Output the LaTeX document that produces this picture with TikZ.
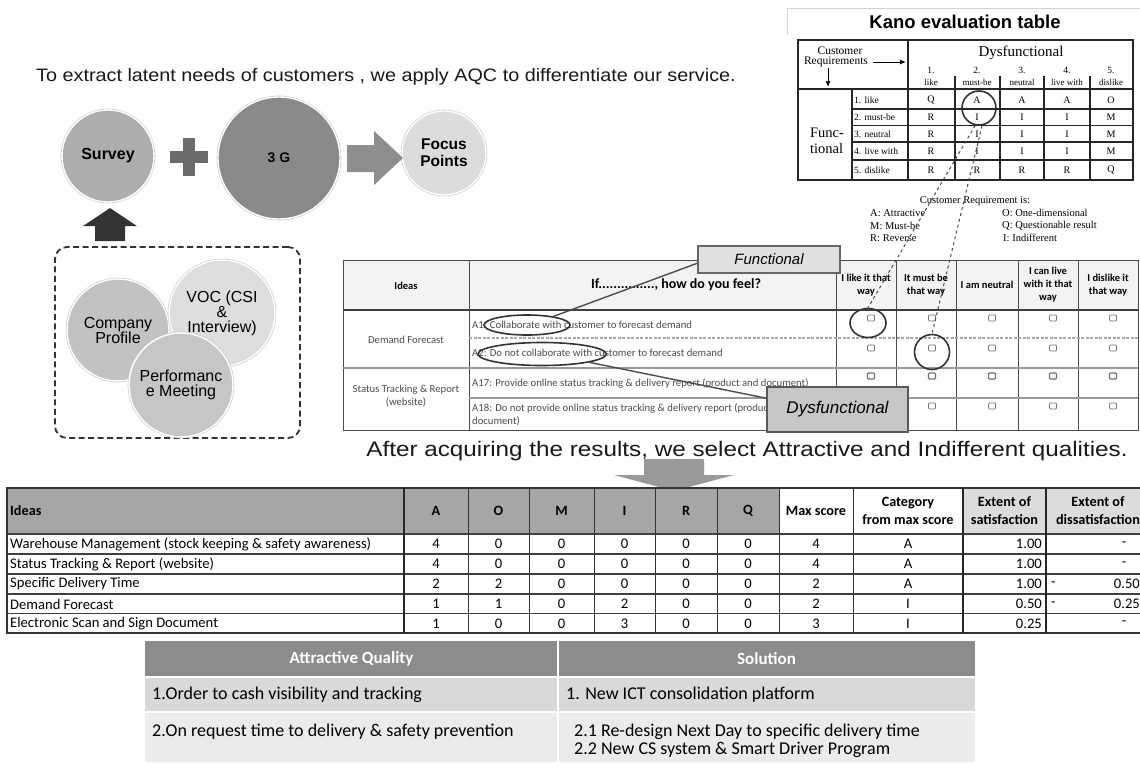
\documentclass[tikz,border=0pt]{standalone}
\usepackage{fontspec}
\setmainfont{Liberation Sans}
\newfontfamily\kserif{Liberation Serif}
\newfontfamily\calib{Carlito}
\usetikzlibrary{shapes.geometric,calc,arrows.meta}
\newcommand{\fsz}[2]{\fontsize{#1}{#2}\selectfont}

\definecolor{surveyc}{HTML}{ADADAD}
\definecolor{gthree}{HTML}{8A8A8A}
\definecolor{focusc}{HTML}{DCDCDC}
\definecolor{compc}{HTML}{C2C2C2}
\definecolor{vocc}{HTML}{DDDDDD}
\definecolor{perfc}{HTML}{C6C6C6}
\definecolor{plusc}{HTML}{6B6B6B}
\definecolor{arrowc}{HTML}{8E8E8E}
\definecolor{hdrgray}{HTML}{A6A6A6}
\definecolor{hdrlight}{HTML}{DCDCDC}
\definecolor{qheadfill}{HTML}{F3F3F3}
\definecolor{aqhead}{HTML}{8C8C8C}
\definecolor{aqrowa}{HTML}{D9D9D9}
\definecolor{aqrowb}{HTML}{EBEBEB}

\begin{document}
\begin{tikzpicture}[x=1pt,y=-1pt,
  bubble/.style={circle, inner sep=0pt, minimum size=#1, draw=white, line width=1.4pt,
    preaction={draw=black!22, line width=2.6pt}, align=center},
  ktxt/.style={font=\kserif\fsz{9.5}{10.5}, inner sep=0pt},
  kval/.style={font=\kserif\fsz{10}{11}, inner sep=0pt},
  klegend/.style={font=\kserif\fsz{10.5}{11.5}, inner sep=0pt},
  kline/.style={line width=1.1pt, draw=black!85},
  qtxt/.style={font=\calib\fsz{10.7}{12.5}, text=black!70, inner sep=0pt, anchor=west, align=left},
  qcol/.style={font=\calib\bfseries\fsz{10.5}{13}, align=center, inner sep=0pt},
  tickbox/.style={draw=black!55, line width=0.7pt, rounded corners=1pt, minimum width=7pt, minimum height=6pt, inner sep=0pt},
  ring/.style={draw=black!80, line width=1.6pt, inner sep=0pt},
  callout/.style={line width=1.4pt, draw=black!70},
  btxt/.style={font=\calib\fsz{14.6}{16}, inner sep=0pt},
  bhead/.style={font=\calib\bfseries\fsz{14.2}{18}, inner sep=0pt, align=center},
  aqtxt/.style={font=\calib\fsz{18}{18}, inner sep=0pt, anchor=west, align=left},
]
\useasboundingbox (0,0) rectangle (1140,766);
\clip (0,0) rectangle (1140,766);
\fill[white] (0,0) rectangle (1140,766);

% ---------- opening sentence ----------
\node[font=\fsz{18}{20}, text=black!90, inner sep=0pt] (intro) at (386,77)
  {\scalebox{1.1}[1]{To extract latent needs of customers , we apply AQC to differentiate our service.}};

% ---------- Survey + 3G -> Focus Points ----------
\node[bubble=92, fill=surveyc, font=\bfseries\fsz{16}{18}] (survey) at (108,156) {Survey};
\node[fill=plusc, minimum width=38pt, minimum height=12pt, inner sep=0pt] (plush) at (189,157) {};
\node[fill=plusc, minimum width=12pt, minimum height=38pt, inner sep=0pt] (plusv) at (189,157) {};
\node[bubble=122, fill=gthree, font=\bfseries\fsz{14}{16}] (g3) at (279,158) {3 G};
\node[bubble=84, fill=focusc, font=\bfseries\fsz{15.5}{17}] (focus) at (444,153) {Focus\\Points};
\fill[arrowc] (347,145) -- (374,145) -- (374,131) -- (403,158) -- (374,185) -- (374,172) -- (347,172) -- cycle;

% block arrow feeding the survey
\fill[black!80] (110,208) -- (137,226) -- (125,226) -- (125,241) -- (95,241) -- (95,226) -- (83,226) -- cycle;

% ---------- survey sources ----------
\node[draw=black!80, line width=1.8pt, dash pattern=on 6pt off 3.5pt, rounded corners=12pt,
  minimum width=245pt, minimum height=191pt, inner sep=0pt] (srcbox) at (177.5,342.5) {};
\node[bubble=102, fill=compc, font=\fsz{16}{15}] (comp) at (118,330) {Company\\Profile};
\node[bubble=106, fill=vocc, font=\fsz{16}{15}] (voc) at (222,313) {VOC (CSI\\\&\\Interview)};
\node[bubble=104, fill=perfc, font=\fsz{16}{15}] (perf) at (181,385) {Performanc\\e Meeting};

% ---------- Kano evaluation table ----------
\draw[black!18, line width=0.8pt] (787,35) -- (787,8) -- (1140,8);
\node[font=\bfseries\fsz{18.5}{20}, inner sep=0pt] (kanotitle) at (965,22) {Kano evaluation table};
\draw[kline, line width=1.5pt] (798,40) rectangle (1133,180);
\draw[kline, line width=1.5pt] (908,40) -- (908,180);
\draw[kline, line width=1.5pt] (798,89) -- (1133,89);
\draw[kline] (852,89) -- (852,180);
\draw[kline, line width=1.5pt] (955,76) -- (955,180);
\foreach \xx in {1000,1044,1090} \draw[kline] (\xx,76) -- (\xx,180);
\foreach \yy in {109,125.5,142,160} \draw[kline] (852,\yy) -- (1133,\yy);

\node[font=\kserif\fsz{11.5}{12}, inner sep=0pt] (kcust) at (840,51) {Customer};
\node[font=\kserif\fsz{11.5}{12}, inner sep=0pt] (kreq) at (836,62) {Requirements};
\coordinate (kright) at (906,62);
\coordinate (kdown) at (828,87);
\draw[-{Latex[length=6pt,width=5pt]}, line width=1pt] ([xshift=5pt]kreq.east) -- (kright);
\draw[-{Latex[length=6pt,width=5pt]}, line width=1pt] ([yshift=-1pt]kreq.south -| kdown) -- (kdown);
\node[font=\kserif\fsz{15}{16}, inner sep=0pt] (kdys) at (1021,53) {Dysfunctional};
\foreach \cx/\num/\word [count=\k] in {931/1./like, 977/2./must-be, 1022/3./neutral, 1067/4./live with, 1111/5./dislike}{
  \node[ktxt, font=\kserif\fsz{9.5}{10}] (kcn\k) at (\cx,70) {\num};
  \node[ktxt, font=\kserif\fsz{9}{10}] (kcw\k) at (\cx,82) {\word};
}
\node[font=\kserif\fsz{14.5}{16.5}, inner sep=0pt, align=left] (kfun) at (827,141) {Func-\\tional};
\foreach \ry/\lab/\va/\vb/\vc/\vd/\ve [count=\k] in
  {100/1. like/Q/A/A/A/O, 117.5/2. must-be/R/I/I/I/M, 134/3. neutral/R/I/I/I/M,
   151/4. live with/R/I/I/I/M, 170/5. dislike/R/R/R/R/Q}{
  \node[ktxt, anchor=west] (kr\k) at (854,\ry) {\lab};
  \node[kval] (kv\k-1) at (931,\ry) {\va};
  \node[kval] (kv\k-2) at (977,\ry) {\vb};
  \node[kval] (kv\k-3) at (1022,\ry) {\vc};
  \node[kval] (kv\k-4) at (1067,\ry) {\vd};
  \node[kval] (kv\k-5) at (1111,\ry) {\ve};
}
\node[ring, circle, minimum size=34pt] (ka) at (979,108) {};

\node[klegend] (klegendhead) at (975,201) {Customer Requirement is:};
\node[klegend, anchor=west] (kla) at (870,213) {A: Attractive};
\node[klegend, anchor=west] (klm) at (870,226) {M: Must-be};
\node[klegend, anchor=west] (klr) at (870,238) {R: Reverse};
\node[klegend, anchor=west] (klo) at (1002,213) {O: One-dimensional};
\node[klegend, anchor=west] (klq) at (1002,226) {Q: Questionable result};
\node[klegend, anchor=west] (kli) at (1003,238) {I: Indifferent};

% ---------- questionnaire ----------
\fill[qheadfill] (343,260) rectangle (1138,310);
\draw[black!70, line width=1pt] (343,260) rectangle (1138,430);
\foreach \xx in {469,836,896,956,1018,1078} \draw[black!70, line width=1pt] (\xx,260) -- (\xx,430);
\draw[black!75, line width=1.3pt] (343,310) -- (1138,310);
\draw[black!35, line width=1.2pt, dash pattern=on 3pt off 1.5pt] (469,338) -- (1138,338);
\draw[black!40, line width=1.6pt] (343,368) -- (1138,368);
\draw[black!40, line width=1.2pt] (469,398) -- (1138,398);

\node[qcol] (qideas) at (406,286) {Ideas};
\node[font=\calib\bfseries\fsz{14}{16}, inner sep=0pt] (qif) at (676,285) {If..............., how do you feel?};
\node[qcol] (qc1) at (866,285) {I like it that\\way};
\node[qcol] (qc2) at (926,285) {It must be\\that way};
\node[qcol] (qc3) at (987,285) {I am neutral};
\node[qcol] (qc4) at (1048,285) {I can live\\with it that\\way};
\node[qcol] (qc5) at (1108,285) {I dislike it\\that way};

\node[qtxt, anchor=center, align=center] (qdf) at (406,340) {Demand Forecast};
\node[qtxt, anchor=center, align=center] (qst) at (406,396) {Status Tracking \& Report\\(website)};
\node[qtxt] (qa1) at (472,325) {A1: Collaborate with customer to forecast demand};
\node[qtxt] (qa2) at (472,353) {A2: Do not collaborate with customer to forecast demand};
\node[qtxt] (qa17) at (472,383) {A17: Provide online status tracking \& delivery report (product and document)};
\node[qtxt] (qa18) at (472,415) {A18: Do not provide online status tracking \& delivery report (product and\\document)};

\foreach \ry/\bw [count=\r] in {318/0.7, 348/0.7, 376/1.2, 406/0.7}{
  \foreach \cx [count=\c] in {871,932,992,1053,1113}{
    \node[tickbox, line width=\bw pt] (cb\r-\c) at (\cx,\ry) {};
  }
}

% highlight rings and callouts
\node[ring, ellipse, minimum width=86pt, minimum height=20pt] (e1) at (527,325) {};
\node[ring, ellipse, minimum width=128pt, minimum height=23pt] (e2) at (542,354) {};
\node[ring, ellipse, minimum width=36pt, minimum height=29pt] (m1) at (868,323) {};
\node[ring, circle, minimum size=35pt] (m2) at (932,352) {};
\draw[dashed, black!70, line width=1pt] (ka.258) -- (m1.north);
\draw[dashed, black!70, line width=1pt] (ka.280) -- (m2.north);

\node[draw=black!60, fill=black!12, line width=1.5pt, minimum width=142pt, minimum height=27pt,
  inner sep=0pt, font=\itshape\fsz{15}{17}] (fb) at (769,259.5) {Functional};
\node[draw=black!65, fill=black!22, line width=2pt, minimum width=141pt, minimum height=45pt,
  inner sep=0pt, font=\itshape\fsz{17}{19}] (db) at (837.5,409.5) {Dysfunctional};
\draw[callout] (fb.183) -- (e1.18);
\draw[callout] (e2.-10) -- (db.171);

% ---------- selection sentence and arrow ----------
\node[font=\fsz{21}{23}, text=black!90, inner sep=0pt] (select) at (747,451)
  {\scalebox{1.155}[1]{After acquiring the results, we select Attractive and Indifferent qualities.}};
\fill[black!40] (644,459) -- (704,459) -- (704,475) -- (734,475) -- (674,491) -- (614,475) -- (644,475) -- cycle;

% ---------- score table ----------
\fill[hdrgray] (7,488) rectangle (779,534);
\fill[white] (779,488) rectangle (963,534);
\fill[hdrlight] (963,488) rectangle (1150,534);
\foreach \yy in {534,554,574,594,613.5} \draw[black!75, line width=1.2pt] (7,\yy) -- (1150,\yy);
\draw[black!80, line width=1.4pt] (7,488) rectangle (1150,633);
\foreach \xx in {468,529,594,655,717,779,853} \draw[black!80, line width=1pt] (\xx,488) -- (\xx,633);
\foreach \xx in {404,963,1046} \draw[black!85, line width=1.6pt] (\xx,488) -- (\xx,633);

\node[bhead, anchor=west] (hideas) at (10,511) {Ideas};
\foreach \cx/\lab [count=\k] in {436/A, 498.5/O, 561.5/M, 624.5/I, 686/R, 748/Q}
  \node[bhead] (hq\k) at (\cx,511) {\lab};
\node[bhead] (hmax) at (816,511) {Max score};
\node[bhead] (hcat) at (908,511) {Category\\from max score};
\node[bhead] (hsat) at (1004.5,511) {Extent of\\satisfaction};
\node[bhead] (hdis) at (1098,511) {Extent of\\dissatisfaction};

\foreach \ry/\idea/\va/\vo/\vm/\vi/\vr/\vq/\vmax/\vcat/\vsat [count=\k] in {
  544/Warehouse Management (stock keeping \& safety awareness)/4/0/0/0/0/0/4/A/1.00,
  564/Status Tracking \& Report (website)/4/0/0/0/0/0/4/A/1.00,
  584/Specific Delivery Time/2/2/0/0/0/0/2/A/1.00,
  604/Demand Forecast/1/1/0/2/0/0/2/I/0.50,
  623.5/Electronic Scan and Sign Document/1/0/0/3/0/0/3/I/0.25}{
  \node[btxt, anchor=west] (ri\k) at (10,\ry) {\idea};
  \node[btxt] (ra\k) at (436,\ry) {\va};
  \node[btxt] (ro\k) at (498.5,\ry) {\vo};
  \node[btxt] (rm\k) at (561.5,\ry) {\vm};
  \node[btxt] (rI\k) at (624.5,\ry) {\vi};
  \node[btxt] (rr\k) at (686,\ry) {\vr};
  \node[btxt] (rq\k) at (748,\ry) {\vq};
  \node[btxt] (rx\k) at (816,\ry) {\vmax};
  \node[btxt] (rc\k) at (908,\ry) {\vcat};
  \node[btxt, anchor=east] (rs\k) at (1042,\ry) {\vsat};
}
\node[btxt] (rd1) at (1124,544) {-};
\node[btxt] (rd2) at (1124,564) {-};
\node[btxt, anchor=west] (rd3a) at (1051,584) {-};
\node[btxt, anchor=east] (rd3b) at (1140,584) {0.50};
\node[btxt, anchor=west] (rd4a) at (1051,604) {-};
\node[btxt, anchor=east] (rd4b) at (1140,604) {0.25};
\node[btxt] (rd5) at (1124,623.5) {-};

% ---------- attractive quality vs solution ----------
\fill[aqhead] (145,641) rectangle (975,677);
\fill[aqrowa] (145,677) rectangle (975,712);
\fill[aqrowb] (145,712) rectangle (975,762);
\draw[white, line width=2pt] (558,641) -- (558,762);
\draw[white, line width=2pt] (145,677) -- (975,677);
\draw[white, line width=2pt] (145,712) -- (975,712);
\node[font=\calib\bfseries\fsz{17}{19}, text=white, inner sep=0pt] (aqh1) at (351.5,659) {Attractive Quality};
\node[font=\calib\bfseries\fsz{17}{19}, text=white, inner sep=0pt] (aqh2) at (766.5,659) {Solution};
\node[aqtxt] (aq1) at (152,695) {1.Order to cash visibility and tracking};
\node[aqtxt] (sol1) at (566,695) {1. New ICT consolidation platform};
\node[aqtxt] (aq2) at (152,732) {2.On request time to delivery \& safety prevention};
\node[aqtxt] (sol2) at (574,741) {2.1 Re-design Next Day to specific delivery time\\2.2 New CS system \& Smart Driver Program};
\end{tikzpicture}
\end{document}
